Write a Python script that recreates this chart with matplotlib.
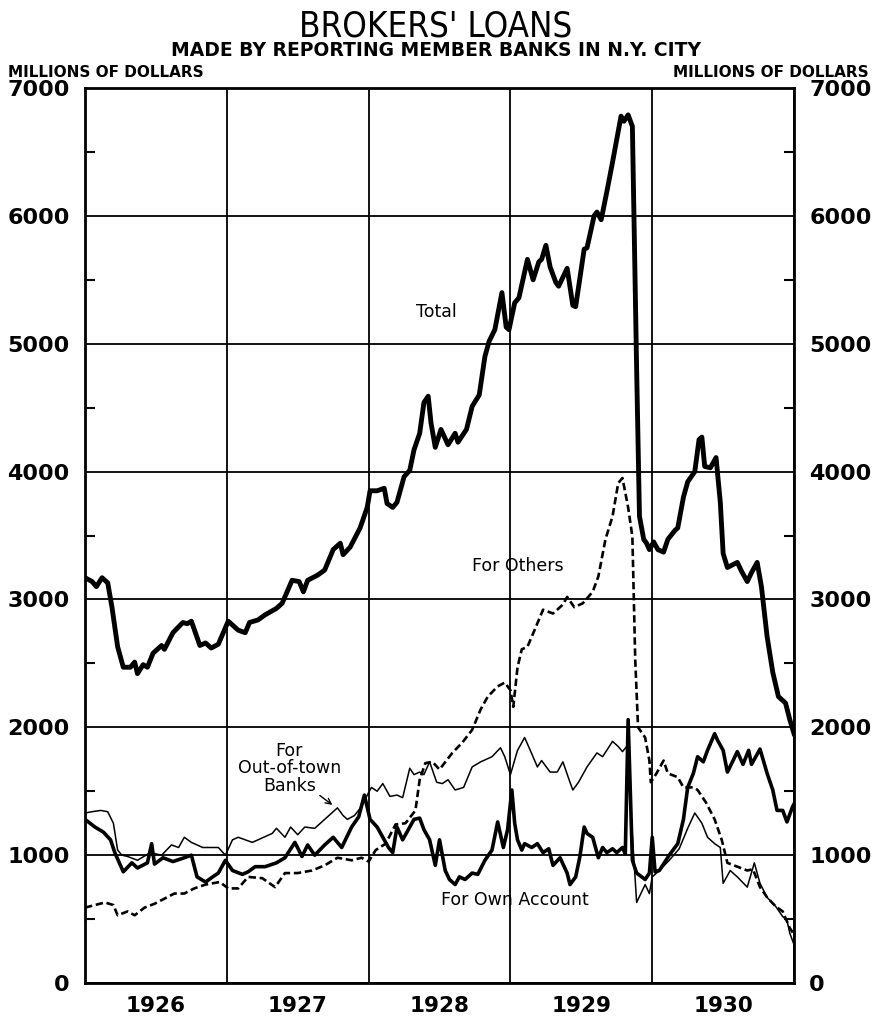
import numpy as np
import matplotlib.pyplot as plt

# ---------------------------------------------------------------
#  data (millions of dollars)
# ---------------------------------------------------------------
total_t = [1926.00, 1926.05, 1926.08, 1926.12, 1926.16, 1926.19, 1926.23, 1926.27,
           1926.32, 1926.35, 1926.37, 1926.41, 1926.44, 1926.48, 1926.54, 1926.56,
           1926.62, 1926.69, 1926.72, 1926.75, 1926.81, 1926.85, 1926.89, 1926.94,
           1927.01, 1927.08, 1927.13, 1927.16, 1927.22, 1927.27, 1927.35, 1927.39,
           1927.46, 1927.51, 1927.54, 1927.57, 1927.64, 1927.69, 1927.75, 1927.80,
           1927.82, 1927.87, 1927.94, 1927.99, 1928.01, 1928.06, 1928.11, 1928.13,
           1928.17, 1928.20, 1928.25, 1928.29, 1928.32, 1928.36, 1928.39, 1928.42,
           1928.44, 1928.47, 1928.51, 1928.56, 1928.61, 1928.63, 1928.69, 1928.73,
           1928.78, 1928.82, 1928.85, 1928.89, 1928.94, 1928.97, 1928.99, 1929.03,
           1929.06, 1929.12, 1929.16, 1929.20, 1929.22, 1929.25, 1929.28, 1929.32,
           1929.34, 1929.40, 1929.44, 1929.46, 1929.52, 1929.54, 1929.59, 1929.61,
           1929.64, 1929.68, 1929.72, 1929.78, 1929.80, 1929.83, 1929.86, 1929.89,
           1929.91, 1929.94, 1929.96, 1929.98, 1930.01, 1930.04, 1930.08, 1930.11,
           1930.16, 1930.18, 1930.22, 1930.25, 1930.30, 1930.33, 1930.35, 1930.37,
           1930.41, 1930.45, 1930.48, 1930.50, 1930.53, 1930.60, 1930.63, 1930.67,
           1930.70, 1930.74, 1930.77, 1930.81, 1930.85, 1930.89, 1930.94, 1930.97,
           1931.00]
total_v = [3170, 3140, 3100, 3170, 3130, 2940, 2630, 2470,
           2470, 2510, 2420, 2490, 2470, 2580, 2640, 2610,
           2740, 2820, 2810, 2830, 2640, 2660, 2620, 2650,
           2830, 2760, 2740, 2820, 2840, 2880, 2930, 2970,
           3150, 3140, 3060, 3150, 3190, 3230, 3390, 3440,
           3350, 3410, 3560, 3720, 3850, 3850, 3870, 3750,
           3720, 3760, 3960, 4010, 4170, 4300, 4540, 4590,
           4380, 4190, 4330, 4210, 4300, 4230, 4330, 4510,
           4600, 4900, 5020, 5110, 5400, 5130, 5110, 5320,
           5360, 5660, 5500, 5640, 5660, 5770, 5600, 5480,
           5450, 5590, 5300, 5290, 5740, 5750, 6000, 6030,
           5970, 6190, 6420, 6780, 6740, 6790, 6700, 4800,
           3650, 3470, 3440, 3390, 3450, 3390, 3370, 3470,
           3540, 3560, 3800, 3920, 4000, 4250, 4270, 4040,
           4030, 4110, 3760, 3360, 3250, 3290, 3220, 3140,
           3210, 3290, 3100, 2710, 2430, 2240, 2190, 2060,
           1950]

own_t = [1926.00, 1926.07, 1926.13, 1926.18, 1926.21, 1926.27, 1926.33, 1926.37,
         1926.44, 1926.47, 1926.49, 1926.55, 1926.62, 1926.70, 1926.75, 1926.79,
         1926.85, 1926.90, 1926.94, 1926.99, 1927.04, 1927.11, 1927.15, 1927.20,
         1927.27, 1927.35, 1927.41, 1927.48, 1927.53, 1927.57, 1927.62, 1927.69,
         1927.75, 1927.81, 1927.88, 1927.93, 1927.97, 1928.01, 1928.06, 1928.10,
         1928.14, 1928.17, 1928.20, 1928.24, 1928.28, 1928.32, 1928.36, 1928.39,
         1928.43, 1928.47, 1928.50, 1928.54, 1928.57, 1928.61, 1928.64, 1928.68,
         1928.73, 1928.77, 1928.82, 1928.87, 1928.91, 1928.95, 1928.98, 1929.01,
         1929.03, 1929.05, 1929.08, 1929.10, 1929.15, 1929.19, 1929.23, 1929.27,
         1929.30, 1929.35, 1929.40, 1929.42, 1929.46, 1929.49, 1929.52, 1929.54,
         1929.58, 1929.62, 1929.65, 1929.68, 1929.72, 1929.75, 1929.79, 1929.81,
         1929.83, 1929.86, 1929.89, 1929.95, 1929.98, 1930.00, 1930.02, 1930.05,
         1930.12, 1930.18, 1930.22, 1930.25, 1930.29, 1930.32, 1930.36, 1930.39,
         1930.44, 1930.46, 1930.50, 1930.53, 1930.57, 1930.60, 1930.64, 1930.68,
         1930.70, 1930.76, 1930.81, 1930.85, 1930.88, 1930.92, 1930.95, 1930.99,
         1931.00]
own_v = [1280, 1220, 1180, 1120, 1020, 870, 940, 900,
         940, 1090, 930, 980, 950, 980, 1000, 830,
         790, 830, 860, 960, 880, 850, 870, 910,
         910, 940, 980, 1100, 990, 1080, 1000, 1080,
         1140, 1060, 1220, 1300, 1470, 1280, 1220, 1140,
         1060, 1020, 1220, 1120, 1200, 1280, 1290, 1200,
         1120, 920, 1120, 880, 810, 770, 830, 810,
         860, 850, 960, 1040, 1260, 1060, 1200, 1510,
         1250, 1120, 1040, 1090, 1060, 1090, 1020, 1050,
         920, 980, 860, 770, 830, 990, 1220, 1170,
         1140, 980, 1060, 1020, 1050, 1020, 1060, 1010,
         2060, 960, 860, 810, 860, 1140, 870, 880,
         1000, 1090, 1280, 1530, 1640, 1770, 1730, 1820,
         1950, 1900, 1820, 1650, 1740, 1810, 1710, 1820,
         1710, 1830, 1640, 1510, 1350, 1350, 1260, 1380,
         1400]

town_t = [1926.00, 1926.05, 1926.11, 1926.16, 1926.20, 1926.23, 1926.26, 1926.30,
          1926.37, 1926.46, 1926.54, 1926.61, 1926.66, 1926.70, 1926.75, 1926.83,
          1926.89, 1926.94, 1926.99, 1927.04, 1927.08, 1927.13, 1927.18, 1927.22,
          1927.32, 1927.35, 1927.41, 1927.45, 1927.50, 1927.55, 1927.62, 1927.67,
          1927.74, 1927.78, 1927.82, 1927.85, 1927.90, 1927.95, 1928.00, 1928.02,
          1928.06, 1928.10, 1928.15, 1928.20, 1928.24, 1928.29, 1928.32, 1928.36,
          1928.39, 1928.43, 1928.48, 1928.52, 1928.56, 1928.61, 1928.67, 1928.73,
          1928.79, 1928.87, 1928.93, 1928.96, 1929.00, 1929.05, 1929.10, 1929.14,
          1929.19, 1929.22, 1929.28, 1929.33, 1929.37, 1929.42, 1929.44, 1929.48,
          1929.54, 1929.61, 1929.65, 1929.72, 1929.76, 1929.79, 1929.82, 1929.89,
          1929.95, 1929.98, 1930.00, 1930.05, 1930.12, 1930.19, 1930.25, 1930.30,
          1930.35, 1930.39, 1930.44, 1930.48, 1930.50, 1930.55, 1930.60, 1930.67,
          1930.72, 1930.76, 1930.81, 1930.87, 1930.92, 1930.95, 1930.97, 1931.00]
town_v = [1330, 1340, 1350, 1340, 1250, 1040, 1000, 990,
          960, 1020, 1000, 1080, 1060, 1140, 1100, 1060,
          1060, 1060, 1000, 1120, 1140, 1120, 1100, 1120,
          1170, 1210, 1140, 1220, 1160, 1220, 1210, 1260,
          1330, 1370, 1310, 1280, 1310, 1380, 1490, 1530,
          1500, 1560, 1460, 1470, 1450, 1680, 1630, 1650,
          1630, 1730, 1570, 1560, 1590, 1510, 1530, 1690,
          1730, 1770, 1840, 1770, 1630, 1820, 1920, 1820,
          1690, 1740, 1650, 1650, 1730, 1570, 1510, 1570,
          1690, 1800, 1770, 1890, 1850, 1810, 1850, 630,
          770, 700, 830, 880, 960, 1050, 1210, 1330,
          1250, 1140, 1090, 1060, 780, 880, 830, 750,
          940, 780, 670, 600, 520, 490, 390, 300]

others_t = [1926.00, 1926.07, 1926.14, 1926.20, 1926.23, 1926.30, 1926.35, 1926.42,
            1926.49, 1926.56, 1926.63, 1926.70, 1926.77, 1926.85, 1926.95, 1927.01,
            1927.08, 1927.15, 1927.25, 1927.34, 1927.41, 1927.50, 1927.60, 1927.69,
            1927.78, 1927.88, 1927.95, 1928.00, 1928.05, 1928.12, 1928.19, 1928.26,
            1928.33, 1928.36, 1928.40, 1928.45, 1928.50, 1928.59, 1928.66, 1928.73,
            1928.79, 1928.84, 1928.91, 1928.96, 1929.00, 1929.02, 1929.05, 1929.08,
            1929.12, 1929.17, 1929.23, 1929.30, 1929.33, 1929.37, 1929.40, 1929.45,
            1929.51, 1929.58, 1929.62, 1929.67, 1929.72, 1929.76, 1929.79, 1929.83,
            1929.86, 1929.88, 1929.90, 1929.95, 1929.98, 1929.99, 1930.03, 1930.08,
            1930.11, 1930.18, 1930.22, 1930.29, 1930.32, 1930.38, 1930.44, 1930.49,
            1930.53, 1930.60, 1930.67, 1930.71, 1930.76, 1930.81, 1930.87, 1930.92,
            1930.97, 1931.00]
others_v = [590, 610, 630, 610, 530, 560, 530, 590,
            620, 660, 700, 700, 740, 770, 790, 740,
            740, 830, 820, 750, 860, 860, 880, 920,
            980, 960, 980, 950, 1040, 1090, 1240, 1250,
            1350, 1590, 1720, 1730, 1670, 1800, 1880, 1980,
            2140, 2240, 2320, 2350, 2290, 2160, 2470, 2610,
            2630, 2760, 2920, 2890, 2920, 2960, 3020, 2940,
            2970, 3060, 3180, 3470, 3650, 3910, 3950, 3720,
            3490, 2530, 2000, 1920, 1740, 1570, 1640, 1740,
            1640, 1610, 1530, 1530, 1510, 1410, 1280, 1120,
            940, 910, 880, 890, 750, 670, 600, 560,
            430, 380]

years = [1926, 1927, 1928, 1929, 1930]

# ---------------------------------------------------------------
#  figure
# ---------------------------------------------------------------
plt.rcParams['font.family'] = ['DejaVu Sans']
fig = plt.figure(figsize=(8.72, 10.19), dpi=100)
ax = fig.add_axes([0.0975, 0.0353, 0.8131, 0.8783])

ax.plot(total_t, total_v, color='black', lw=3.5, solid_joinstyle='round', zorder=5)
ax.plot(own_t, own_v, color='black', lw=2.6, solid_joinstyle='round', zorder=4)
ax.plot(town_t, town_v, color='black', lw=1.1, zorder=4)
ax.plot(others_t, others_v, color='black', lw=1.9, dashes=(2.8, 1.4), zorder=4)

ax.set_xlim(1926, 1931)
ax.set_ylim(0, 7000)

# grid at year boundaries and every 1000
ax.set_xticks([1926, 1927, 1928, 1929, 1930, 1931])
ax.set_xticklabels([])
ax.set_xticks([y + 0.5 for y in years], minor=True)
ax.set_xticklabels([str(y) for y in years], minor=True)
ax.tick_params(axis='x', which='both', length=0, pad=9)
ax.tick_params(axis='x', which='minor', labelsize=15.5)
for lab in ax.get_xticklabels(minor=True):
    lab.set_fontweight('bold')

ax.set_yticks(np.arange(0, 7001, 1000))
ax.set_yticks(np.arange(500, 7000, 1000), minor=True)
ax.tick_params(axis='y', which='major', length=0, pad=11, labelsize=16,
               left=True, right=True, labelleft=True, labelright=True)
ax.tick_params(axis='y', which='minor', direction='in', length=7, width=1.5,
               left=True, right=True)
for lab in ax.yaxis.get_ticklabels(which='major'):
    lab.set_fontweight('bold')

ax.grid(True, which='major', color='black', lw=1.3)
for s in ax.spines.values():
    s.set_linewidth(2)

# labels on the lines
ax.text(1928.48, 5250, 'Total', fontsize=12.5, ha='center', va='center')
ax.text(1929.05, 3260, 'For Others', fontsize=12.5, ha='center', va='center')
ax.text(1929.03, 650, 'For Own Account', fontsize=12.5, ha='center', va='center')
ax.text(1927.44, 1680, 'For\nOut-of-town\nBanks', fontsize=12.5, ha='center',
        va='center', linespacing=0.95)
ax.annotate('', xy=(1927.76, 1380), xytext=(1927.64, 1480),
            arrowprops=dict(arrowstyle='->', color='black', lw=1))

# titles
fig.text(0.5, 0.974, "BROKERS' LOANS", ha='center', va='center', fontsize=25,
         fontstretch='condensed')
fig.text(0.5, 0.950, 'MADE BY REPORTING MEMBER BANKS IN N.Y. CITY', ha='center',
         va='center', fontsize=13.5, fontweight='bold')
fig.text(0.009, 0.929, 'MILLIONS OF DOLLARS', ha='left', va='center',
         fontsize=11, fontweight='bold')
fig.text(0.996, 0.929, 'MILLIONS OF DOLLARS', ha='right', va='center',
         fontsize=11, fontweight='bold')

fig.savefig('out.png', dpi=100)
